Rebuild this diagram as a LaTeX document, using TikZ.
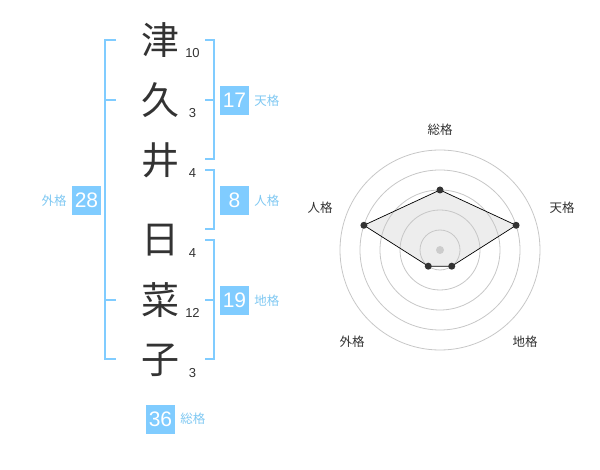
\documentclass[tikz,border=0pt]{standalone}
\usepackage{fontspec}
\usetikzlibrary{positioning}
\setmainfont{Liberation Sans}
\newfontfamily\jpfont{Noto Sans CJK JP}
\definecolor{kakublue}{HTML}{80CCFF}
\definecolor{kakutext}{HTML}{7FC8F2}
\definecolor{inkgray}{HTML}{333333}
\tikzset{
  kanji/.style={font=\jpfont\fontsize{38}{38}\selectfont, text=inkgray, inner sep=0pt},
  strokes/.style={font=\fontsize{13}{13}\selectfont, text=inkgray, inner sep=0pt},
  kakubox/.style={fill=kakublue, text=white, minimum size=29pt, inner sep=0pt, font=\fontsize{21}{21}\selectfont},
  kakulabel/.style={font=\jpfont\fontsize{12.5}{12.5}\selectfont, text=kakutext, inner sep=0pt},
  bracket/.style={draw=kakublue, line width=2pt},
  radarlabel/.style={font=\jpfont\fontsize{12.5}{12.5}\selectfont, text=inkgray, inner sep=0pt},
  ring/.style={draw=black!22, line width=0.8pt},
  dot/.style={circle, fill=inkgray, inner sep=0pt, minimum size=7pt}
}
\begin{document}
\begin{tikzpicture}[x=1pt,y=-1pt]
\useasboundingbox (0,0) rectangle (600,470);

% name characters and stroke counts
\node[kanji] (k1) at (160,40) {津};
\node[kanji] (k2) at (160,100) {久};
\node[kanji] (k3) at (160,160) {井};
\node[kanji] (k4) at (160,240) {日};
\node[kanji] (k5) at (160,300) {菜};
\node[kanji] (k6) at (160,360) {子};
\node[strokes] (s1) at (192.5,53) {10};
\node[strokes] (s2) at (192.5,113) {3};
\node[strokes] (s3) at (192.5,173) {4};
\node[strokes] (s4) at (192.5,253) {4};
\node[strokes] (s5) at (192.5,313) {12};
\node[strokes] (s6) at (192.5,373) {3};

% brackets
\draw[bracket] (116,40) -- (105,40) -- (105,359) -- (116,359);
\draw[bracket] (105,100) -- (116,100);
\draw[bracket] (105,300) -- (116,300);
\draw[bracket] (205,40) -- (214,40) -- (214,159) -- (205,159);
\draw[bracket] (205,100) -- (214,100);
\draw[bracket] (205,170) -- (214,170) -- (214,229) -- (205,229);
\draw[bracket] (205,240) -- (214,240) -- (214,359) -- (205,359);
\draw[bracket] (205,300) -- (214,300);

% scores
\node[kakubox] (gai) at (86.5,200.5) {28};
\node[kakulabel, left=5pt of gai] (gaiL) {外格};
\node[kakubox] (ten) at (234.5,100.5) {17};
\node[kakulabel, right=5pt of ten] (tenL) {天格};
\node[kakubox] (jin) at (234.5,200.5) {8};
\node[kakulabel, right=5pt of jin] (jinL) {人格};
\node[kakubox] (chi) at (234.5,300.5) {19};
\node[kakulabel, right=5pt of chi] (chiL) {地格};
\node[kakubox] (sou) at (160.5,419) {36};
\node[kakulabel, right=5pt of sou] (souL) {総格};

% radar
\begin{scope}[shift={(440,250)}, yscale=-1]
\coordinate (cSou) at (90:60);
\coordinate (cTen) at (18:80);
\coordinate (cChi) at (-54:20);
\coordinate (cGai) at (-126:20);
\coordinate (cJin) at (162:80);
\fill[black!7] (cSou) -- (cTen) -- (cChi) -- (cGai) -- (cJin) -- cycle;
\foreach \r in {20,40,...,100} \draw[ring] (0,0) circle (\r);
\node[circle, fill=black!20, inner sep=0pt, minimum size=8pt] (mid) at (0,0) {};
\draw[line width=0.7pt] (cSou) -- (cTen) -- (cChi) -- (cGai) -- (cJin) -- cycle;
\foreach \p in {Sou,Ten,Chi,Gai,Jin} \node[dot] (d\p) at (c\p) {};
\end{scope}
\node[radarlabel] (rSou) at (440,130) {総格};
\node[radarlabel] (rTen) at (562,208) {天格};
\node[radarlabel] (rJin) at (320,208) {人格};
\node[radarlabel] (rGai) at (352,342) {外格};
\node[radarlabel] (rChi) at (525,342) {地格};
\end{tikzpicture}
\end{document}
